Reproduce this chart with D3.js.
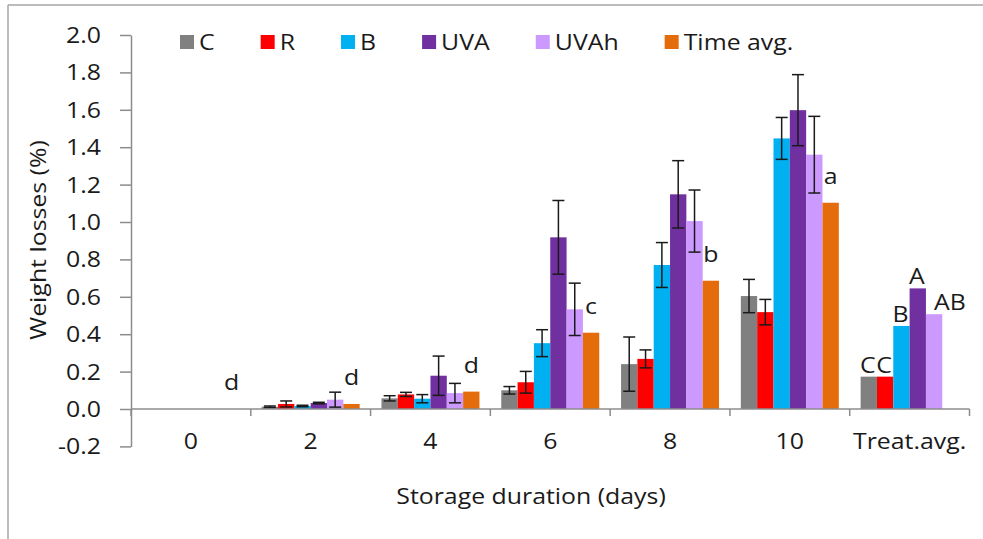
<!DOCTYPE html>
<html><head><meta charset="utf-8">
<script src="https://cdn.jsdelivr.net/npm/d3@7"></script>
<style>
html,body{margin:0;padding:0;background:#fff;}
svg{display:block;}
text{font-family:"Open Sans","Noto Sans",sans-serif;fill:#1a1a1a;}
</style></head>
<body>
<svg id="chart" width="983" height="539"></svg>
<script>
// ---- data ----
const categories = ["0","2","4","6","8","10","Treat.avg."];
const seriesNames = ["C","R","B","UVA","UVAh","Time avg."];
const seriesColors = ["#808080","#ff0000","#00b0f0","#7030a0","#cc99ff","#e46c0a"];
const valC     = [0, 0.012, 0.057, 0.100, 0.240, 0.604, 0.173];
const valR     = [0, 0.027, 0.078, 0.143, 0.268, 0.518, 0.173];
const valB     = [0, 0.016, 0.055, 0.352, 0.770, 1.447, 0.444];
const valUVA   = [0, 0.032, 0.178, 0.918, 1.148, 1.598, 0.645];
const valUVAh  = [0, 0.050, 0.085, 0.533, 1.005, 1.360, 0.507];
const valTime  = [0, 0.027, 0.093, 0.408, 0.686, 1.103, null];
const errC     = [null, 0.004, 0.014, 0.020, 0.145, 0.089, null];
const errR     = [null, 0.016, 0.011, 0.058, 0.048, 0.068, null];
const errB     = [null, 0.004, 0.022, 0.072, 0.120, 0.112, null];
const errUVA   = [null, 0.004, 0.105, 0.197, 0.180, 0.190, null];
const errUVAh  = [null, 0.040, 0.052, 0.140, 0.166, 0.205, null];
const errTime  = [null, null, null, null, null, null, null];
const timeLetters  = ["d","d","d","c","b","a"];
const treatLetters = ["C","C","B","A","AB"];
const yTicks = [-0.2,0,0.2,0.4,0.6,0.8,1.0,1.2,1.4,1.6,1.8,2.0];
const xTitle = "Storage duration (days)";
const yTitle = "Weight losses (%)";

const allVals = [valC,valR,valB,valUVA,valUVAh,valTime];
const allErrs = [errC,errR,errB,errUVA,errUVAh,errTime];

// ---- layout ----
const svg = d3.select("#chart");
const FS = 22;     // font size
const SX = 1.13;   // horizontal text stretch (reference font is wide)
const pLeft = 131, pRight = 969.5, pTop = 35, pBottom = 446.4;

// place a horizontally-stretched text at (x,y)
function txt(parent, x, y, s, anchor){
  return parent.append("text")
    .attr("transform",`translate(${x},${y}) scale(${SX},1)`)
    .attr("text-anchor",anchor||"middle").attr("font-size",FS).text(s);
}

// frame
svg.append("line").attr("x1",8).attr("x2",983).attr("y1",5).attr("y2",5).attr("stroke","#a6a6a6").attr("stroke-width",1.5);
svg.append("line").attr("x1",8).attr("x2",8).attr("y1",5).attr("y2",539).attr("stroke","#a6a6a6").attr("stroke-width",1.5);

const y = d3.scaleLinear().domain([-0.2,2.0]).range([pBottom, pTop]);
const x0 = d3.scaleBand().domain(categories).range([pLeft,pRight]).paddingInner(0).paddingOuter(0);
const x1 = d3.scaleBand().domain(seriesNames).range([0,x0.bandwidth()]).paddingInner(0).paddingOuter(0.668);

// bars
const barData = [];
seriesNames.forEach((s,si)=>{
  categories.forEach((c,ci)=>{
    const v = allVals[si][ci];
    if (v===null) return;
    barData.push({s, si, c, v, e: allErrs[si][ci]});
  });
});
svg.append("g").selectAll("rect").data(barData).join("rect")
  .attr("x", d=>x0(d.c)+x1(d.s))
  .attr("width", x1.bandwidth())
  .attr("y", d=>Math.min(y(d.v), y(0)))
  .attr("height", d=>Math.abs(y(0)-y(d.v)))
  .attr("fill", d=>seriesColors[d.si]);

// error bars
const eb = svg.append("g").attr("stroke","#1a1a1a").attr("stroke-width",1.5);
barData.filter(d=>d.e!==null).forEach(d=>{
  const cx = x0(d.c)+x1(d.s)+x1.bandwidth()/2;
  const y1 = y(d.v+d.e), y2 = y(d.v-d.e), hw = 6;
  eb.append("line").attr("x1",cx).attr("x2",cx).attr("y1",y1).attr("y2",y2);
  eb.append("line").attr("x1",cx-hw).attr("x2",cx+hw).attr("y1",y1).attr("y2",y1);
  eb.append("line").attr("x1",cx-hw).attr("x2",cx+hw).attr("y1",y2).attr("y2",y2);
});

// axes
const axisColor = "#8c8c8c";
const fmt = d => d3.format(".1f")(d).replace("\u2212","-");
const yAxis = svg.append("g").attr("transform",`translate(${pLeft},0)`)
  .call(d3.axisLeft(y).tickValues(yTicks).tickSize(11).tickSizeOuter(0).tickFormat(fmt));
yAxis.select(".domain").attr("stroke",axisColor).attr("stroke-width",1.5);
yAxis.selectAll(".tick line").attr("stroke",axisColor).attr("stroke-width",1.5);
yAxis.selectAll(".tick text")
  .attr("x",null).attr("dy",null)
  .attr("transform",`translate(-30,7.5) scale(${SX},1)`)
  .attr("font-size",FS).attr("font-family",null).attr("fill","#1a1a1a");

svg.append("line").attr("x1",pLeft).attr("x2",pRight).attr("y1",y(0)).attr("y2",y(0)).attr("stroke",axisColor).attr("stroke-width",1.5);
const boundaries = categories.map(c=>x0(c)).concat([x0.range()[1]]);
svg.append("g").selectAll("line").data(boundaries).join("line")
  .attr("x1",d=>d).attr("x2",d=>d).attr("y1",y(0)).attr("y2",y(0)+7)
  .attr("stroke",axisColor).attr("stroke-width",1.5);
const xl = svg.append("g");
categories.forEach(c=>txt(xl, x0(c)+x0.bandwidth()/2, 449, c));

// titles
txt(svg, 531, 504, xTitle);
svg.append("text").attr("transform",`translate(46,240) rotate(-90) scale(${SX},1)`)
  .attr("text-anchor","middle").attr("font-size",FS).text(yTitle);

// letters above time-average bars
timeLetters.forEach((t,i)=>{
  const c = categories[i];
  txt(svg, x0(c)+x1("Time avg.")+x1.bandwidth()/2, y(valTime[i])-19, t);
});
// letters above treatment averages
const lastCat = categories[categories.length-1];
treatLetters.forEach((t,i)=>{
  const s = seriesNames[i];
  const cx = x0(lastCat)+x1(s)+x1.bandwidth()/2;
  txt(svg, t.length>1?cx:cx-1, y(allVals[i][categories.length-1])-4, t, t.length>1?"start":"middle");
});

// legend
const lg = svg.append("g");
let lx = 180;
seriesNames.forEach((s,i)=>{
  lg.append("rect").attr("x",lx).attr("y",35).attr("width",14).attr("height",14).attr("fill",seriesColors[i]);
  const t = txt(lg, lx+19, 49.5, s, "start");
  lx += 19 + SX*t.node().getComputedTextLength() + 46;
});
</script>
</body></html>
